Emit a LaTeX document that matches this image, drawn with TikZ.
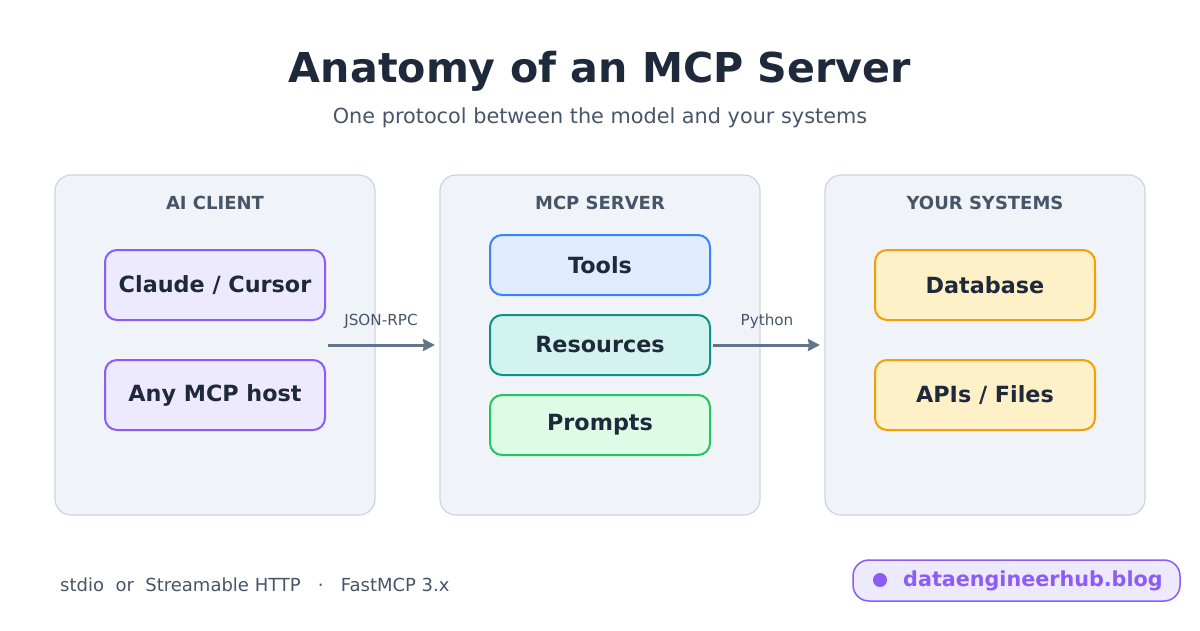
\documentclass[tikz,border=0pt]{standalone}
\usepackage{fontspec}
\setmainfont{DejaVu Sans}
\usepackage{xcolor}
\usetikzlibrary{positioning,arrows.meta}
\definecolor{ink}{HTML}{1E293B}
\definecolor{slate}{HTML}{475569}
\definecolor{arrowc}{HTML}{64748B}
\definecolor{panelf}{HTML}{F0F4F9}
\definecolor{panels}{HTML}{CBD5E1}
\definecolor{violf}{HTML}{EDE9FE}
\definecolor{viols}{HTML}{8B5CF6}
\definecolor{bluef}{HTML}{E0ECFE}
\definecolor{blues}{HTML}{3B82F6}
\definecolor{tealf}{HTML}{D3F3EE}
\definecolor{teals}{HTML}{0D9488}
\definecolor{greenf}{HTML}{DCFCE7}
\definecolor{greens}{HTML}{22C55E}
\definecolor{ambf}{HTML}{FEF0C7}
\definecolor{ambs}{HTML}{F59E0B}
\tikzset{
  panel/.style={draw=panels, fill=panelf, line width=1.2pt, rounded corners=16pt,
    minimum width=320pt, minimum height=340pt},
  head/.style={text=slate, font=\bfseries\fontsize{18}{20}\selectfont},
  item/.style={rounded corners=12pt, line width=2pt, minimum width=220pt,
    text=ink, font=\bfseries\fontsize{22.3}{26}\selectfont},
  client/.style={item, draw=viols, fill=violf, minimum height=70pt},
  sys/.style={item, draw=ambs, fill=ambf, minimum height=70pt},
  srv/.style={item, minimum height=60pt},
  flow/.style={-{Stealth[length=12pt,width=12pt,inset=1pt]}, draw=arrowc, line width=3pt},
  tag/.style={text=slate, font=\fontsize{15.2}{17}\selectfont}
}
\begin{document}
\begin{tikzpicture}[x=1pt, y=-1pt]
  \useasboundingbox (0,0) rectangle (1200,630);
  % Title
  \node[text=ink, font=\bfseries\fontsize{41.2}{48}\selectfont] (title) at (600,71) {Anatomy of an MCP Server};
  \node[text=slate, font=\fontsize{20.8}{24}\selectfont] (sub) at (600,118) {One protocol between the model and your systems};
  % Panels
  \node[panel] (client) at (215,345) {};
  \node[panel] (server) at (600,345) {};
  \node[panel] (systems) at (985,345) {};
  \node[head] at (215,203) {AI CLIENT};
  \node[head] at (600,203) {MCP SERVER};
  \node[head] at (985,203) {YOUR SYSTEMS};
  % Client side
  \node[client] (claude) at (215,285) {Claude / Cursor};
  \node[client] (host) at (215,395) {Any MCP host};
  % Server parts
  \node[srv, draw=blues, fill=bluef] (tools) at (600,265) {Tools};
  \node[srv, draw=teals, fill=tealf] (res) at (600,345) {Resources};
  \node[srv, draw=greens, fill=greenf] (prompts) at (600,425) {Prompts};
  % Systems
  \node[sys] (db) at (985,285) {Database};
  \node[sys] (apis) at (985,395) {APIs / Files};
  % Connectors
  \coordinate (c1) at (328,345);
  \coordinate (c2) at (435,345);
  \coordinate (c3) at (713,345);
  \coordinate (c4) at (820,345);
  \draw[flow] (c1) -- (c2);
  \draw[flow] (c3) -- (c4);
  \node[tag] (rpc) at (381,321) {JSON-RPC};
  \node[tag] (py) at (767,321) {Python};
  % Footer
  \node[anchor=west, inner sep=0pt, text=slate, font=\fontsize{18}{20}\selectfont] (foot) at (60,585)
    {stdio\ \ or\ \ Streamable HTTP\ \ \ ·\ \ \ FastMCP 3.x};
  \node[draw=viols, fill=violf, line width=1.5pt, rounded corners=16pt,
    minimum width=327pt, minimum height=41pt] (pill) at (1016.5,580.5) {};
  \fill[viols] (880,580) circle (7pt);
  \node[anchor=west, inner sep=0pt, text=viols, font=\bfseries\fontsize{20.7}{24}\selectfont] (blog) at (903,581) {dataengineerhub.blog};
\end{tikzpicture}
\end{document}
